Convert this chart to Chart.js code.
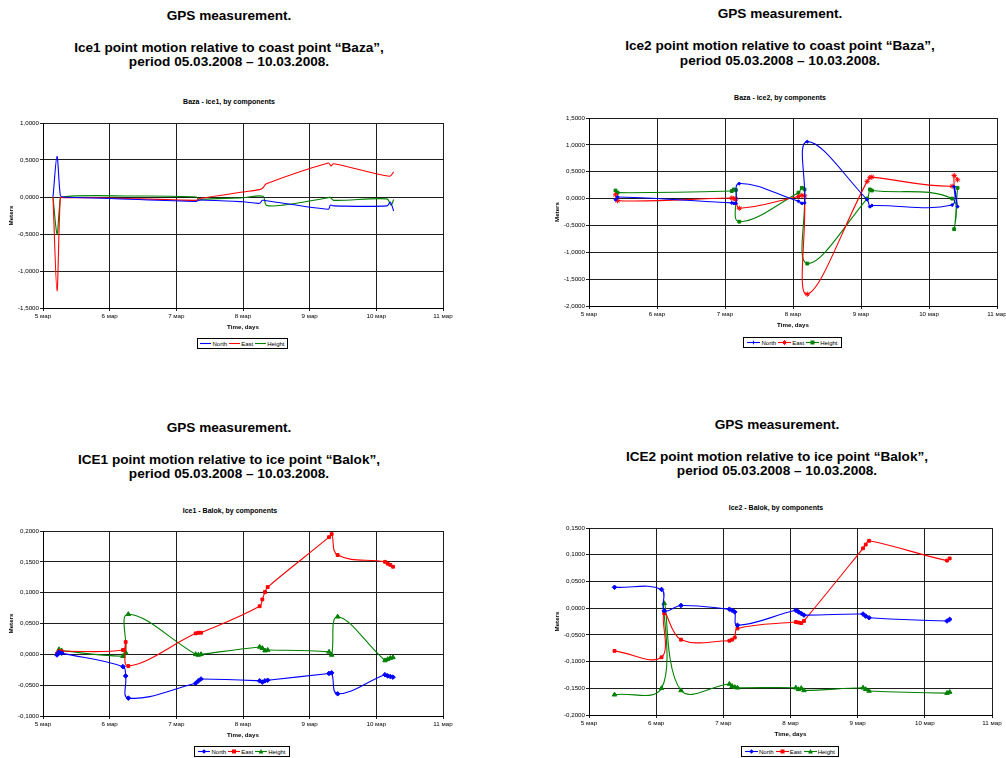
<!DOCTYPE html>
<html>
<head>
<meta charset="utf-8">
<script src="https://cdn.jsdelivr.net/npm/chart.js@4.4.1/dist/chart.umd.min.js"></script>
<style>
  html, body { margin: 0; padding: 0; background: #fff; }
  body { width: 1006px; height: 758px; overflow: hidden; position: relative;
         font-family: 'Liberation Sans', Arial, sans-serif; color: #000; }
  .head { position: absolute; font-weight: bold; font-size: 13.6px; white-space: nowrap;
          transform: translate(-50%, -50%); line-height: 1; color: #000; }
  .sub { position: absolute; font-weight: bold; font-size: 7px; white-space: nowrap;
         transform: translate(-50%, -50%); line-height: 1; color: #000; }
  canvas.pc { position: absolute; }
  .lg { position: absolute; box-sizing: border-box; border: 1px solid #000; background: #fff;
        display: flex; align-items: center; justify-content: center; gap: 2px;
        font-size: 6px; line-height: 1; white-space: nowrap; color: #000; }
  .lg span.it { display: flex; align-items: center; gap: 1px; flex: none; }
  .lg svg { display: block; flex: none; }
</style>
</head>
<body>

<div class="head" style="left:229px;top:16px">GPS measurement.</div>
<div class="head" style="left:229px;top:48px">Ice1 point motion relative to coast point “Baza”,</div>
<div class="head" style="left:229px;top:62px">period 05.03.2008 – 10.03.2008.</div>

<div class="head" style="left:780px;top:14px">GPS measurement.</div>
<div class="head" style="left:780px;top:46px">Ice2 point motion relative to coast point “Baza”,</div>
<div class="head" style="left:780px;top:61px">period 05.03.2008 – 10.03.2008.</div>

<div class="head" style="left:229px;top:428px">GPS measurement.</div>
<div class="head" style="left:229px;top:460px">ICE1 point motion relative to ice point “Balok”,</div>
<div class="head" style="left:229px;top:474px">period 05.03.2008 – 10.03.2008.</div>

<div class="head" style="left:777px;top:425px">GPS measurement.</div>
<div class="head" style="left:777px;top:457px">ICE2 point motion relative to ice point “Balok”,</div>
<div class="head" style="left:777px;top:471px">period 05.03.2008 – 10.03.2008.</div>

<div class="sub" style="left:229px;top:101px">Baza - ice1, by components</div>
<div class="sub" style="left:780px;top:97px">Baza - ice2, by components</div>
<div class="sub" style="left:230px;top:510px">Ice1 - Balok, by components</div>
<div class="sub" style="left:776px;top:507px">Ice2 - Balok, by components</div>

<canvas class="pc" id="c1"></canvas>
<canvas class="pc" id="c2"></canvas>
<canvas class="pc" id="c3"></canvas>
<canvas class="pc" id="c4"></canvas>

<div class="lg" id="lg1" style="left:197px;top:338px;width:91px;height:11px"></div>
<div class="lg" id="lg2" style="left:743px;top:337px;width:99px;height:11px"></div>
<div class="lg" id="lg3" style="left:194px;top:746px;width:96px;height:11px"></div>
<div class="lg" id="lg4" style="left:741px;top:746px;width:98px;height:11px"></div>

<script>
// ---- Baza - ice1 (days of March, metres) ----
const bazaIce1NorthDays = [5.15, 5.21, 5.26, 5.30, 6.00, 7.30, 7.34, 8.00, 8.25, 8.29, 8.35, 9.28, 9.31, 9.36, 10.16, 10.21, 10.26];
const bazaIce1North     = [0.00, 0.55, 0.02, 0.00, -0.02, -0.06, -0.04, -0.065, -0.085, -0.045, -0.05, -0.165, -0.11, -0.12, -0.12, -0.07, -0.19];
const bazaIce1EastDays  = [5.15, 5.21, 5.26, 5.30, 5.85, 7.30, 7.35, 8.00, 8.25, 8.30, 8.35, 9.28, 9.32, 9.36, 10.20, 10.26];
const bazaIce1East      = [0.00, -1.27, -0.01, -0.01, -0.01, -0.045, -0.02, 0.067, 0.10, 0.125, 0.18, 0.46, 0.42, 0.45, 0.28, 0.34];
const bazaIce1HeightDays = [5.15, 5.21, 5.25, 5.28, 6.35, 7.30, 7.34, 7.39, 8.00, 8.30, 8.35, 8.60, 9.28, 9.30, 9.36, 10.16, 10.22, 10.26];
const bazaIce1Height     = [0.00, -0.50, -0.11, 0.00, 0.013, 0.00, -0.045, -0.03, -0.01, 0.01, -0.11, -0.11, -0.01, 0.00, -0.045, -0.025, -0.11, -0.035];

// ---- Baza - ice2 ----
const bazaIce2Days   = [5.39, 5.42, 7.10, 7.13, 7.16, 7.21, 8.08, 8.13, 8.17, 8.21, 9.09, 9.13, 9.16, 10.34, 10.37, 10.42];
const bazaIce2North  = [-0.02, 0.03, -0.08, -0.09, -0.09, 0.28, -0.05, -0.09, -0.08, 1.06, -0.02, -0.15, -0.13, -0.12, 0.22, -0.15];
const bazaIce2East   = [0.07, -0.04, 0.01, 0.00, -0.01, -0.18, 0.04, 0.06, 0.05, -1.78, 0.32, 0.39, 0.40, 0.23, 0.43, 0.35];
const bazaIce2Height = [0.15, 0.11, 0.14, 0.17, 0.16, -0.43, 0.11, 0.20, 0.17, -1.21, 0.00, 0.17, 0.15, 0.00, -0.57, 0.20];

// ---- Ice1 - Balok ----
const ice1BalokDays   = [5.21, 5.24, 5.28, 6.20, 6.24, 6.28, 7.29, 7.33, 7.37, 8.25, 8.29, 8.33, 8.37, 9.29, 9.33, 9.42, 10.13, 10.17, 10.21, 10.25];
const ice1BalokNorth  = [-0.001, 0.003, 0.002, -0.020, -0.035, -0.071, -0.047, -0.043, -0.040, -0.043, -0.045, -0.043, -0.042, -0.031, -0.030, -0.064, -0.033, -0.035, -0.036, -0.037];
const ice1BalokEast   = [0.001, 0.005, 0.005, 0.007, 0.020, -0.019, 0.034, 0.035, 0.035, 0.078, 0.089, 0.101, 0.109, 0.190, 0.195, 0.161, 0.150, 0.147, 0.145, 0.142];
const ice1BalokHeight = [0.001, 0.008, 0.006, -0.003, 0.003, 0.065, 0.000, -0.001, 0.000, 0.012, 0.010, 0.006, 0.007, 0.004, -0.001, 0.061, -0.010, -0.008, -0.006, -0.005];

// ---- Ice2 - Balok ----
const ice2BalokDays   = [5.38, 6.08, 6.12, 6.37, 7.09, 7.13, 7.17, 7.21, 8.08, 8.12, 8.16, 8.20, 9.08, 9.12, 9.17, 10.33, 10.37];
const ice2BalokNorth  = [0.039, 0.035, -0.005, 0.005, -0.002, -0.004, -0.007, -0.032, -0.004, -0.007, -0.010, -0.013, -0.011, -0.015, -0.018, -0.024, -0.021];
const ice2BalokEast   = [-0.080, -0.092, -0.010, -0.059, -0.061, -0.059, -0.055, -0.038, -0.026, -0.027, -0.028, -0.024, 0.112, 0.119, 0.126, 0.089, 0.093];
const ice2BalokHeight = [-0.162, -0.150, 0.009, -0.154, -0.142, -0.146, -0.148, -0.149, -0.149, -0.152, -0.150, -0.154, -0.149, -0.152, -0.155, -0.159, -0.157];

const seriesNames = ['North', 'East', 'Height'];
const BLUE = '#0000ff', RED = '#ff0000', GREEN = '#008000';
const FONT = "'Liberation Sans', Arial, sans-serif";
const fmtMeters = v => (Math.abs(v) < 1e-9 ? 0 : v).toFixed(4).replace('.', ',');
const fmtDay = v => v + ' мар';

const Y_AXIS_W = 43, TOP_PAD = 8, RIGHT_PAD = 26, X_AXIS_H = 26;

function pairs(days, vals) { return days.map((d, i) => ({ x: d, y: vals[i] })); }

function buildChart(id, box, yMin, yMax, yStep, sets, tension) {
  const cv = document.getElementById(id);
  const w = box.R - box.L + Y_AXIS_W + RIGHT_PAD;
  const h = box.B - box.T + TOP_PAD + X_AXIS_H;
  cv.width = w; cv.height = h;
  cv.style.width = w + 'px'; cv.style.height = h + 'px';
  cv.style.left = (box.L - Y_AXIS_W) + 'px';
  cv.style.top = (box.T - TOP_PAD) + 'px';

  const gridCol = '#1e1e1e';
  return new Chart(cv, {
    type: 'line',
    data: {
      datasets: sets.map(s => ({
        label: s.label,
        data: pairs(s.days, s.vals),
        borderColor: s.color,
        backgroundColor: s.color,
        borderWidth: 1.1,
        pointStyle: s.marker || 'circle',
        pointRadius: s.marker ? s.r : 0,
        pointBorderWidth: 1,
        pointHoverRadius: 0,
        tension: tension,
        fill: false
      }))
    },
    options: {
      responsive: false,
      animation: false,
      devicePixelRatio: 1,
      layout: { padding: { left: 0, top: TOP_PAD, right: RIGHT_PAD, bottom: 0 } },
      plugins: { legend: { display: false }, title: { display: false }, tooltip: { enabled: false } },
      scales: {
        x: {
          type: 'linear', min: 5, max: 11,
          afterFit: s => { s.height = X_AXIS_H; },
          ticks: { stepSize: 1, padding: 2, autoSkip: false, maxRotation: 0, color: '#000',
                   font: { family: FONT, size: 6.2 }, callback: fmtDay },
          grid: { color: gridCol, lineWidth: 1, tickLength: 3 },
          border: { color: '#000', width: 1 },
          title: { display: true, text: 'Time, days', color: '#000',
                   font: { family: FONT, size: 6.2, weight: 'bold' }, padding: { top: 0, bottom: 2.8 } }
        },
        y: {
          min: yMin, max: yMax,
          afterFit: s => { s.width = Y_AXIS_W; },
          ticks: { stepSize: yStep, padding: 1, color: '#000',
                   font: { family: FONT, size: 6.2 }, callback: fmtMeters },
          grid: { color: gridCol, lineWidth: 1, tickLength: 3 },
          border: { color: '#000', width: 1 },
          title: { display: true, text: 'Meters', color: '#000',
                   font: { family: FONT, size: 6.2, weight: 'bold' }, padding: { top: 7.8, bottom: 0 } }
        }
      }
    }
  });
}

// legend swatch: short line with an optional marker in its middle
function swatch(color, marker, w) {
  let m = '';
  const c = w / 2, y = 3.5;
  if (marker === 'rectRot') m = `<polygon points="${c},${y-2.3} ${c+2.3},${y} ${c},${y+2.3} ${c-2.3},${y}" fill="${color}"/>`;
  else if (marker === 'rect') m = `<rect x="${c-2}" y="${y-2}" width="4" height="4" fill="${color}"/>`;
  else if (marker === 'triangle') m = `<polygon points="${c},${y-2.4} ${c+2.4},${y+2} ${c-2.4},${y+2}" fill="${color}"/>`;
  else if (marker === 'star') m = `<path d="M${c-2.4},${y}H${c+2.4}M${c},${y-2.4}V${y+2.4}M${c-1.7},${y-1.7}L${c+1.7},${y+1.7}M${c-1.7},${y+1.7}L${c+1.7},${y-1.7}" stroke="${color}" stroke-width="1"/>`;
  else if (marker === 'plus') m = `<path d="M${c-1.8},${y}H${c+1.8}M${c},${y-1.8}V${y+1.8}" stroke="${color}" stroke-width="1"/>`;
  return `<svg width="${w}" height="7" viewBox="0 0 ${w} 7"><line x1="0" y1="${y}" x2="${w}" y2="${y}" stroke="${color}" stroke-width="1.1"/>${m}</svg>`;
}
function buildLegend(id, sets, w) {
  document.getElementById(id).innerHTML = sets.map(s =>
    `<span class="it">${swatch(s.color, s.legendMarker || s.marker, w)}<span>${s.label}</span></span>`).join('');
}

// ---- panel 1 ----
const sets1 = [
  { label: seriesNames[0], days: bazaIce1NorthDays, vals: bazaIce1North, color: BLUE },
  { label: seriesNames[1], days: bazaIce1EastDays, vals: bazaIce1East, color: RED },
  { label: seriesNames[2], days: bazaIce1HeightDays, vals: bazaIce1Height, color: GREEN }
];
buildChart('c1', { L: 43, T: 123, R: 443, B: 308 }, -1.5, 1.0, 0.5, sets1, 0.3);
buildLegend('lg1', sets1, 11);

// ---- panel 2 ----
const sets2 = [
  { label: seriesNames[0], days: bazaIce2Days, vals: bazaIce2North, color: BLUE, marker: 'rectRot', r: 1.6, legendMarker: 'plus' },
  { label: seriesNames[1], days: bazaIce2Days, vals: bazaIce2East, color: RED, marker: 'star', r: 2.6 },
  { label: seriesNames[2], days: bazaIce2Days, vals: bazaIce2Height, color: GREEN, marker: 'rect', r: 2.0 }
];
buildChart('c2', { L: 589, T: 118, R: 997, B: 306 }, -2.0, 1.5, 0.5, sets2, 0.4);
buildLegend('lg2', sets2, 13);

// ---- panel 3 ----
const sets3 = [
  { label: seriesNames[0], days: ice1BalokDays, vals: ice1BalokNorth, color: BLUE, marker: 'rectRot', r: 2.3 },
  { label: seriesNames[1], days: ice1BalokDays, vals: ice1BalokEast, color: RED, marker: 'rect', r: 2.0 },
  { label: seriesNames[2], days: ice1BalokDays, vals: ice1BalokHeight, color: GREEN, marker: 'triangle', r: 2.6 }
];
buildChart('c3', { L: 43, T: 531, R: 443, B: 716 }, -0.1, 0.2, 0.05, sets3, 0.4);
buildLegend('lg3', sets3, 12);

// ---- panel 4 ----
const sets4 = [
  { label: seriesNames[0], days: ice2BalokDays, vals: ice2BalokNorth, color: BLUE, marker: 'rectRot', r: 2.3 },
  { label: seriesNames[1], days: ice2BalokDays, vals: ice2BalokEast, color: RED, marker: 'rect', r: 2.0 },
  { label: seriesNames[2], days: ice2BalokDays, vals: ice2BalokHeight, color: GREEN, marker: 'triangle', r: 2.6 }
];
buildChart('c4', { L: 589, T: 528, R: 992, B: 715 }, -0.2, 0.15, 0.05, sets4, 0.4);
buildLegend('lg4', sets4, 13);
</script>
</body>
</html>
